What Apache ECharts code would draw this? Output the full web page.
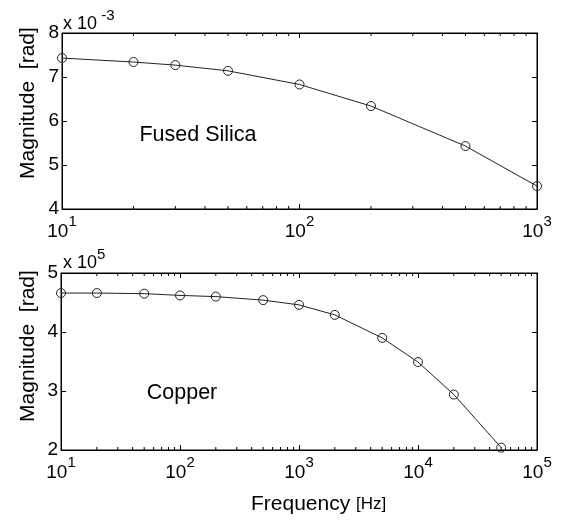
<!DOCTYPE html>
<html>
<head>
<meta charset="utf-8">
<script src="https://cdn.jsdelivr.net/npm/echarts@6/dist/echarts.min.js"></script>
<style>
html, body { margin: 0; padding: 0; background: #fff; }
#chart { width: 570px; height: 522px; }
</style>
</head>
<body>
<div id="chart"></div>
<script>
// data
var silicaFreq = [10, 20, 30, 50, 100, 200, 500, 1000];
var silicaMag = [7.43, 7.34, 7.27, 7.14, 6.83, 6.34, 5.43, 4.52];   // x 10^-3
var copperFreq = [10, 20, 50, 100, 200, 500, 1000, 2000, 5000, 10000, 20000, 50000];
var copperMag = [4.66, 4.66, 4.65, 4.62, 4.60, 4.54, 4.46, 4.29, 3.90, 3.49, 2.94, 2.04]; // x 10^5
var silicaX = [10, 1000];
var copperX = [10, 100000];
var silicaY = [4, 8];
var copperY = [2, 5];

var FONT = '"Liberation Sans", Arial, Helvetica, sans-serif';
var chart = echarts.init(document.getElementById('chart'));

function pairs(xs, ys) {
    return xs.map(function (x, i) { return [x, ys[i]]; });
}

var powLabel = {
    margin: 4,
    color: '#000',
    fontFamily: FONT,
    formatter: function (v) {
        return '{b|10}{e|' + Math.round(Math.log10(v)) + '}';
    },
    rich: {
        b: { fontSize: 19, fontFamily: FONT, color: '#000', padding: [9, 0, 0, 0] },
        e: { fontSize: 15, fontFamily: FONT, color: '#000', padding: [0, 0, 11, 0] }
    }
};

function logX(grid, range, pos, showLabel) {
    return {
        type: 'log', gridIndex: grid, position: pos, min: range[0], max: range[1], logBase: 10,
        axisLine: { show: true, onZero: false, lineStyle: { color: '#000', width: 1 } },
        axisTick: { show: true, inside: true, length: 5, lineStyle: { color: '#000' } },
        axisLabel: showLabel ? powLabel : { show: false },
        splitLine: { show: false }
    };
}

function valY(grid, range, pos, showLabel) {
    return {
        type: 'value', gridIndex: grid, position: pos, min: range[0], max: range[1], interval: 1,
        axisLine: { show: true, onZero: false, lineStyle: { color: '#000', width: 1 } },
        axisTick: { show: true, inside: true, length: 5, lineStyle: { color: '#000' } },
        axisLabel: showLabel ? { margin: 3, color: '#000', fontSize: 19, fontFamily: FONT } : { show: false },
        splitLine: { show: false }
    };
}

var lineSeries = {
    type: 'line',
    symbol: 'circle',
    symbolSize: 9,
    lineStyle: { color: '#222', width: 1 },
    itemStyle: { color: 'rgba(0,0,0,0)', borderColor: '#222', borderWidth: 1 },
    silent: true,
    animation: false
};

var option = {
    backgroundColor: '#fff',
    animation: false,
    grid: [
        { left: 62, right: 33, top: 33, height: 176, show: true, borderColor: '#000', borderWidth: 1 },
        { left: 61, right: 33, top: 273, height: 177, show: true, borderColor: '#000', borderWidth: 1 }
    ],
    xAxis: [
        logX(0, silicaX, 'bottom', true),
        logX(0, silicaX, 'top', false),
        logX(1, copperX, 'bottom', true),
        logX(1, copperX, 'top', false)
    ],
    yAxis: [
        valY(0, silicaY, 'left', true),
        valY(0, silicaY, 'right', false),
        valY(1, copperY, 'left', true),
        valY(1, copperY, 'right', false)
    ],
    series: [
        Object.assign({}, lineSeries, { name: 'Fused Silica', xAxisIndex: 0, yAxisIndex: 0, data: pairs(silicaFreq, silicaMag) }),
        Object.assign({}, lineSeries, { name: 'Copper', xAxisIndex: 2, yAxisIndex: 2, data: pairs(copperFreq, copperMag) })
    ]
};
chart.setOption(option);

// minor log ticks (2..9 per decade) on top and bottom edges, plus the texts
function minorTicks(axisIdx, range, grid) {
    var out = [];
    var top = grid.top, bottom = grid.top + grid.height;
    for (var d = Math.log10(range[0]); d < Math.log10(range[1]); d++) {
        for (var m = 2; m <= 9; m++) {
            var x = chart.convertToPixel({ xAxisIndex: axisIdx }, m * Math.pow(10, d));
            out.push({ type: 'line', silent: true, shape: { x1: x, y1: bottom, x2: x, y2: bottom - 3 }, style: { stroke: '#000', lineWidth: 1 } });
            out.push({ type: 'line', silent: true, shape: { x1: x, y1: top, x2: x, y2: top + 3 }, style: { stroke: '#000', lineWidth: 1 } });
        }
    }
    return out;
}

function txt(x, y, text, size, extra) {
    return Object.assign({
        type: 'text', x: x, y: y, silent: true,
        style: { text: text, fontSize: size, fontFamily: FONT, fill: '#000', align: 'center', verticalAlign: 'middle' }
    }, extra || {});
}

var g = [];
g = g.concat(minorTicks(0, silicaX, option.grid[0]));
g = g.concat(minorTicks(2, copperX, option.grid[1]));
g.push(txt(198, 135, 'Fused Silica', 21.5));
g.push(txt(182, 393, 'Copper', 21.5));
g.push(txt(28, 103, 'Magnitude  [rad]', 21, { rotation: Math.PI / 2 }));
g.push(txt(28, 346, 'Magnitude  [rad]', 21, { rotation: Math.PI / 2 }));
g.push({
    type: 'text', x: 63, y: 8, silent: true,
    style: {
        text: '{a|x 10}{s| -3}', fontFamily: FONT, fill: '#000',
        rich: { a: { fontSize: 18, fontFamily: FONT, padding: [7, 0, 0, 0] }, s: { fontSize: 15, fontFamily: FONT, padding: [0, 0, 9, 0] } }
    }
});
g.push({
    type: 'text', x: 63, y: 247, silent: true,
    style: {
        text: '{a|x 10}{s|5}', fontFamily: FONT, fill: '#000',
        rich: { a: { fontSize: 18, fontFamily: FONT, padding: [7, 0, 0, 0] }, s: { fontSize: 15, fontFamily: FONT, padding: [0, 0, 9, 0] } }
    }
});
g.push({
    type: 'text', x: 251, y: 494, silent: true,
    style: {
        text: '{a|Frequency }{b|[Hz]}', fontFamily: FONT, fill: '#000',
        rich: { a: { fontSize: 21, fontFamily: FONT }, b: { fontSize: 17, fontFamily: FONT } }
    }
});
chart.setOption({ graphic: g });
</script>
</body>
</html>
